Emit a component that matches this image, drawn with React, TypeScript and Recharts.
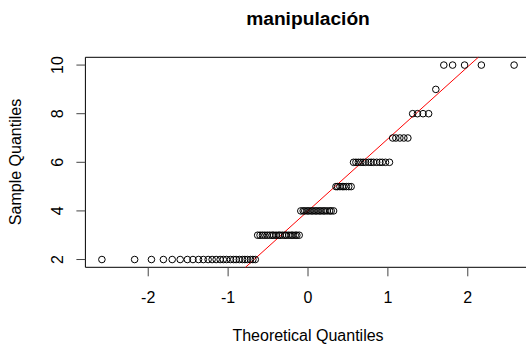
import React from 'react';
import { ScatterChart, Scatter, XAxis, YAxis, ReferenceLine, ReferenceArea } from 'recharts';

const theoretical = [
  -2.58, -2.17, -1.96, -1.81, -1.70, -1.60, -1.51, -1.44, -1.37, -1.31,
  -1.25, -1.20, -1.15, -1.10, -1.06, -1.02, -0.97, -0.93, -0.90, -0.86,
  -0.82, -0.79, -0.76, -0.72, -0.69, -0.66, -0.63, -0.60, -0.57, -0.54,
  -0.51, -0.48, -0.45, -0.43, -0.40, -0.37, -0.35, -0.32, -0.29, -0.27,
  -0.24, -0.21, -0.19, -0.16, -0.14, -0.11, -0.09, -0.06, -0.04, -0.01,
  0.01, 0.04, 0.06, 0.09, 0.11, 0.14, 0.16, 0.19, 0.21, 0.24,
  0.27, 0.29, 0.32, 0.35, 0.37, 0.40, 0.43, 0.45, 0.48, 0.51,
  0.54, 0.57, 0.60, 0.63, 0.66, 0.69, 0.72, 0.76, 0.79, 0.82,
  0.86, 0.90, 0.93, 0.97, 1.02, 1.06, 1.10, 1.15, 1.20, 1.25,
  1.31, 1.37, 1.44, 1.51, 1.60, 1.70, 1.81, 1.96, 2.17, 2.58,
];

// sorted sample values: each level and how many times it occurs
const sampleLevels = [2, 3, 4, 5, 6, 7, 8, 9, 10];
const sampleCounts = [26, 20, 17, 8, 14, 5, 4, 1, 5];

const xTicks = [-2, -1, 0, 1, 2];
const yTicks = [2, 4, 6, 8, 10];

const samples = sampleLevels.flatMap((v, i) => Array(sampleCounts[i]).fill(v));
const points = theoretical.map((x, i) => ({ x, y: samples[i] }));

// R-style 4% padding around the data range
const pad = (arr: number[]): [number, number] => {
  const lo = Math.min(...arr);
  const hi = Math.max(...arr);
  const d = (hi - lo) * 0.04;
  return [lo - d, hi + d];
};
const xDomain = pad(theoretical);
const yDomain = pad(samples);

// qqline: through the 1st and 3rd quartiles
const quantile = (sorted: number[], p: number) => {
  const h = (sorted.length - 1) * p;
  const lo = Math.floor(h);
  return sorted[lo] + (h - lo) * ((sorted[lo + 1] ?? sorted[lo]) - sorted[lo]);
};
const zq = 0.6744898;
const q1 = quantile(samples, 0.25);
const q3 = quantile(samples, 0.75);
const slope = (q3 - q1) / (2 * zq);
const intercept = q1 + slope * zq;
const lineX1 = Math.max(xDomain[0], (yDomain[0] - intercept) / slope);
const lineX2 = Math.min(xDomain[1], (yDomain[1] - intercept) / slope);

const font = '"Liberation Sans", Arial, sans-serif';

const XTick = (props: any) => (
  <text x={props.x} y={303} textAnchor="middle" fontSize={16} fontFamily={font} fill="#000">
    {props.payload.value}
  </text>
);

const YTick = (props: any) => (
  <text
    x={63}
    y={props.y}
    transform={`rotate(-90, 63, ${props.y})`}
    textAnchor="middle"
    fontSize={16}
    fontFamily={font}
    fill="#000"
  >
    {props.payload.value}
  </text>
);

const Dot = (props: any) => (
  <circle cx={props.cx} cy={props.cy} r={3.3} fill="none" stroke="#000" strokeWidth={1} />
);

export default function App() {
  return (
    <div style={{ position: 'absolute', left: 0, top: 0, width: 526, height: 350, overflow: 'hidden', background: '#fff' }}>
      <ScatterChart width={540} height={350} margin={{ top: 57.3, right: 9.4, bottom: 42.7, left: 25.4 }}>
        <XAxis
          dataKey="x"
          type="number"
          domain={xDomain}
          ticks={xTicks}
          interval={0}
          allowDataOverflow
          height={40}
          axisLine={false}
          tickSize={9}
          tickLine={{ stroke: '#444' }}
          tick={<XTick />}
        />
        <YAxis
          dataKey="y"
          type="number"
          domain={yDomain}
          ticks={yTicks}
          interval={0}
          allowDataOverflow
          width={60}
          axisLine={false}
          tickSize={9}
          tickLine={{ stroke: '#444' }}
          tick={<YTick />}
        />
        <ReferenceArea
          x1={xDomain[0]}
          x2={xDomain[1]}
          y1={yDomain[0]}
          y2={yDomain[1]}
          fill="none"
          fillOpacity={0}
          stroke="#000"
          strokeWidth={1}
          ifOverflow="visible"
        />
        <Scatter data={points} shape={<Dot />} isAnimationActive={false} />
        <ReferenceLine
          segment={[
            { x: lineX1, y: intercept + slope * lineX1 },
            { x: lineX2, y: intercept + slope * lineX2 },
          ]}
          stroke="#ff0000"
          strokeWidth={1}
          ifOverflow="visible"
        />
      </ScatterChart>
      <svg width={526} height={350} style={{ position: 'absolute', left: 0, top: 0, pointerEvents: 'none' }}>
        <text x={308} y={25} textAnchor="middle" fontSize={19.2} fontWeight="bold" fontFamily={font} fill="#000">
          manipulación
        </text>
        <text x={308} y={341} textAnchor="middle" fontSize={16} fontFamily={font} fill="#000">
          Theoretical Quantiles
        </text>
        <text x={21} y={162} transform="rotate(-90, 21, 162)" textAnchor="middle" fontSize={16} fontFamily={font} fill="#000">
          Sample Quantiles
        </text>
      </svg>
    </div>
  );
}
